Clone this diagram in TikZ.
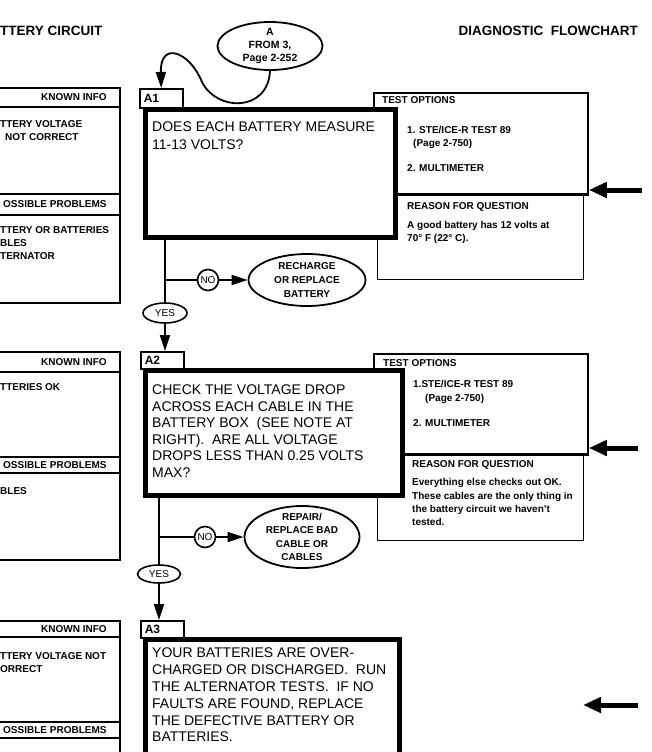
\documentclass[tikz,border=0pt]{standalone}
\usepackage{fontspec}
\setmainfont{Liberation Sans}
\usetikzlibrary{arrows.meta,shapes.geometric}
\tikzset{
 leftbox/.style={draw,line width=1.2pt},
 hdr/.style={font=\fontsize{10}{12}\selectfont\bfseries,inner sep=0pt},
 txt/.style={inner sep=0pt,align=left,anchor=north west},
 big/.style={inner sep=0pt,align=left,anchor=north west},
 titletxt/.style={font=\fontsize{13.5}{16}\selectfont\bfseries,inner sep=0pt},
 mainbox/.style={draw,line width=4.5pt,fill=white,anchor=north west,inner sep=0pt},
 lblbox/.style={draw,line width=1.5pt,anchor=north west,inner xsep=4pt,inner ysep=0pt,text width=35pt,align=left,font=\fontsize{12}{14}\selectfont\bfseries},
 optbox/.style={draw,line width=1.8pt,anchor=north west,inner sep=0pt},
 rsnbox/.style={draw,line width=1.2pt,anchor=north west,inner sep=0pt},
 oval/.style={draw,ellipse,line width=1.8pt,inner xsep=0pt,inner ysep=-8pt,align=center},
 yn/.style={draw,ellipse,line width=1.6pt,inner sep=0pt,minimum width=44pt,minimum height=20pt,font=\fontsize{10}{12}\selectfont},
 nocirc/.style={draw,circle,line width=1.6pt,inner sep=0pt,minimum size=21pt,font=\fontsize{10}{12}\selectfont},
 flow/.style={line width=1.8pt},
 flowarrow/.style={line width=1.8pt,-{Triangle[length=16pt,width=10pt]}},
 bigarrow/.style={line width=5pt,-{Triangle[length=18pt,width=15pt]}},
}
\begin{document}
\begin{tikzpicture}[x=1pt,y=-1pt]
\useasboundingbox (0,0) rectangle (651,752);
\clip (0,0) rectangle (651,752);

% titles
\node[titletxt,anchor=west] (tl) at (0,31) {TTERY CIRCUIT};
\node[titletxt,anchor=east] (tr) at (638,31) {DIAGNOSTIC\ \ FLOWCHART};

% left boxes
\draw[leftbox] (-5,88) rectangle (120,303);
\draw[leftbox] (-5,107) -- (120,107) (-5,194) -- (120,194) (-5,215) -- (120,215);
\node[hdr] (k1h) at (74,97) {KNOWN INFO};
\node[hdr,anchor=west] (k1a) at (0,124) {TTERY VOLTAGE};
\node[hdr,anchor=west] (k1b) at (5,137) {NOT CORRECT};
\node[hdr,anchor=west] (p1h) at (3,204.5) {OSSIBLE PROBLEMS};
\node[hdr,anchor=west] (p1a) at (0,230) {TTERY OR BATTERIES};
\node[hdr,anchor=west] (p1b) at (0,243) {BLES};
\node[hdr,anchor=west] (p1c) at (0,256) {TERNATOR};

\draw[leftbox] (-5,352) rectangle (120,560);
\draw[leftbox] (-5,372) -- (120,372) (-5,457) -- (120,457) (-5,473) -- (120,473);
\node[hdr] (k2h) at (74,362) {KNOWN INFO};
\node[hdr,anchor=west] (k2a) at (0,387) {TTERIES OK};
\node[hdr,anchor=west] (p2h) at (3,465) {OSSIBLE PROBLEMS};
\node[hdr,anchor=west] (p2a) at (0,491) {BLES};

\draw[leftbox] (-5,621) rectangle (120,770);
\draw[leftbox] (-5,637) -- (120,637) (-5,722) -- (120,722) (-5,738) -- (120,738);
\node[hdr] (k3h) at (74,629) {KNOWN INFO};
\node[hdr,anchor=west] (k3a) at (0,656) {TTERY VOLTAGE NOT};
\node[hdr,anchor=west] (k3b) at (0,669) {ORRECT};
\node[hdr,anchor=west] (p3h) at (3,730) {OSSIBLE PROBLEMS};

% right boxes, first question
\node[rsnbox,minimum width=206pt,minimum height=86pt] (rsn1) at (377,193) {};
\node[optbox,minimum width=214pt,minimum height=101pt] (opt1) at (373,92) {};
\draw[line width=3pt] (opt1.south west) -- (opt1.south east);
\node[hdr,anchor=west] (opt1h) at (382,100) {TEST OPTIONS};
\node[hdr,anchor=west] (opt1a) at (407,130) {1. STE/ICE-R TEST 89};
\node[hdr,anchor=west] (opt1b) at (413,144) {(Page 2-750)};
\node[hdr,anchor=west] (opt1c) at (407,168) {2. MULTIMETER};
\node[hdr,anchor=west] (rsn1h) at (407,207) {REASON FOR QUESTION};
\node[txt,font=\fontsize{10}{12.5}\selectfont\bfseries] (rsn1t) at (407,221.5) {A good battery has 12 volts at\\70° F (22° C).};

% right boxes, second question
\node[rsnbox,minimum width=206pt,minimum height=87pt] (rsn2) at (377,453) {};
\node[optbox,minimum width=214pt,minimum height=100pt] (opt2) at (373,353) {};
\draw[line width=3pt] (opt2.south west) -- (opt2.south east);
\node[hdr,anchor=west] (opt2h) at (383,363) {TEST OPTIONS};
\node[hdr,anchor=west] (opt2a) at (413,384) {1.STE/ICE-R TEST 89};
\node[hdr,anchor=west] (opt2b) at (425,399) {(Page 2-750)};
\node[hdr,anchor=west] (opt2c) at (413,423) {2. MULTIMETER};
\node[hdr,anchor=west] (rsn2h) at (412,465) {REASON FOR QUESTION};
\node[txt,font=\fontsize{10}{13.3}\selectfont\bfseries] (rsn2t) at (412,478.4) {Everything else checks out OK.\\These cables are the only thing in\\the battery circuit we haven't\\tested.};

% question boxes
\node[lblbox,minimum height=19pt] (a1lbl) at (139,88) {A1};
\node[mainbox,minimum width=250pt,minimum height=128pt] (a1main) at (143,107) {};
\node[big,font=\fontsize{14}{18}\selectfont] (a1txt) at (152,122) {DOES EACH BATTERY MEASURE\\11-13 VOLTS?};

\node[lblbox,minimum height=17pt] (a2lbl) at (140,351) {A2};
\node[mainbox,minimum width=257pt,minimum height=125pt] (a2main) at (143,368) {};
\node[big,font=\fontsize{14}{16.5}\selectfont] (a2txt) at (152,385) {CHECK THE VOLTAGE DROP\\ACROSS EACH CABLE IN THE\\BATTERY BOX\ \ (SEE NOTE AT\\RIGHT).\ \ ARE ALL VOLTAGE\\DROPS LESS THAN 0.25 VOLTS\\MAX?};

\node[lblbox,minimum height=17pt] (a3lbl) at (140,620) {A3};
\node[mainbox,minimum width=254pt,minimum height=140pt] (a3main) at (143,637) {};
\node[big,font=\fontsize{14}{16.8}\selectfont] (a3txt) at (152,648) {YOUR BATTERIES ARE OVER-\\CHARGED OR DISCHARGED.\ \ RUN\\THE ALTERNATOR TESTS.\ \ IF NO\\FAULTS ARE FOUND, REPLACE\\THE DEFECTIVE BATTERY OR\\BATTERIES.};

% entry oval
\node[oval,minimum width=105pt,minimum height=48pt,font=\fontsize{10.5}{13}\selectfont\bfseries] (from3) at (270,46) {A\\FROM 3,\\Page 2-252};
\draw[flowarrow] (from3.south) .. controls (268,112) and (217,112) .. (202,82) .. controls (190,52) and (160,40) .. (a1lbl.north);

% first branch
\node[yn] (yes1) at (165,313) {YES};
\node[nocirc] (no1) at (208,280) {NO};
\node[oval,minimum width=117pt,minimum height=52pt,font=\fontsize{10}{14}\selectfont\bfseries] (recharge) at (307,280) {RECHARGE\\OR REPLACE\\BATTERY};
\draw[flow] (a1main.south -| yes1.north) -- (yes1.north);
\draw[flow] (no1.west -| yes1.north) -- (no1.west);
\draw[flowarrow] (no1.east) -- (recharge.west);
\draw[flowarrow] (yes1.south) -- (yes1.south |- a2lbl.north);

% second branch
\node[yn,minimum width=43pt,minimum height=18pt] (yes2) at (159,574) {YES};
\node[nocirc] (no2) at (205,537) {NO};
\node[oval,minimum width=115pt,minimum height=62pt,font=\fontsize{10}{13.2}\selectfont\bfseries] (repair) at (302,537) {REPAIR/\\REPLACE BAD\\CABLE OR\\CABLES};
\draw[flow] (a2main.south -| yes2.north) -- (yes2.north);
\draw[flow] (no2.west -| yes2.north) -- (no2.west);
\draw[flowarrow] (no2.east) -- (repair.west);
\draw[flowarrow] (yes2.south) -- (yes2.south |- a3lbl.north);

% side arrows
\coordinate (r1) at (642,190);
\draw[bigarrow] (r1) -- (r1 -| opt1.east);
\coordinate (r2) at (638,448);
\draw[bigarrow] (r2) -- (r2 -| opt2.east);
\coordinate (r3s) at (638,705);
\coordinate (r3e) at (583,705);
\draw[bigarrow] (r3s) -- (r3e);
\end{tikzpicture}
\end{document}
